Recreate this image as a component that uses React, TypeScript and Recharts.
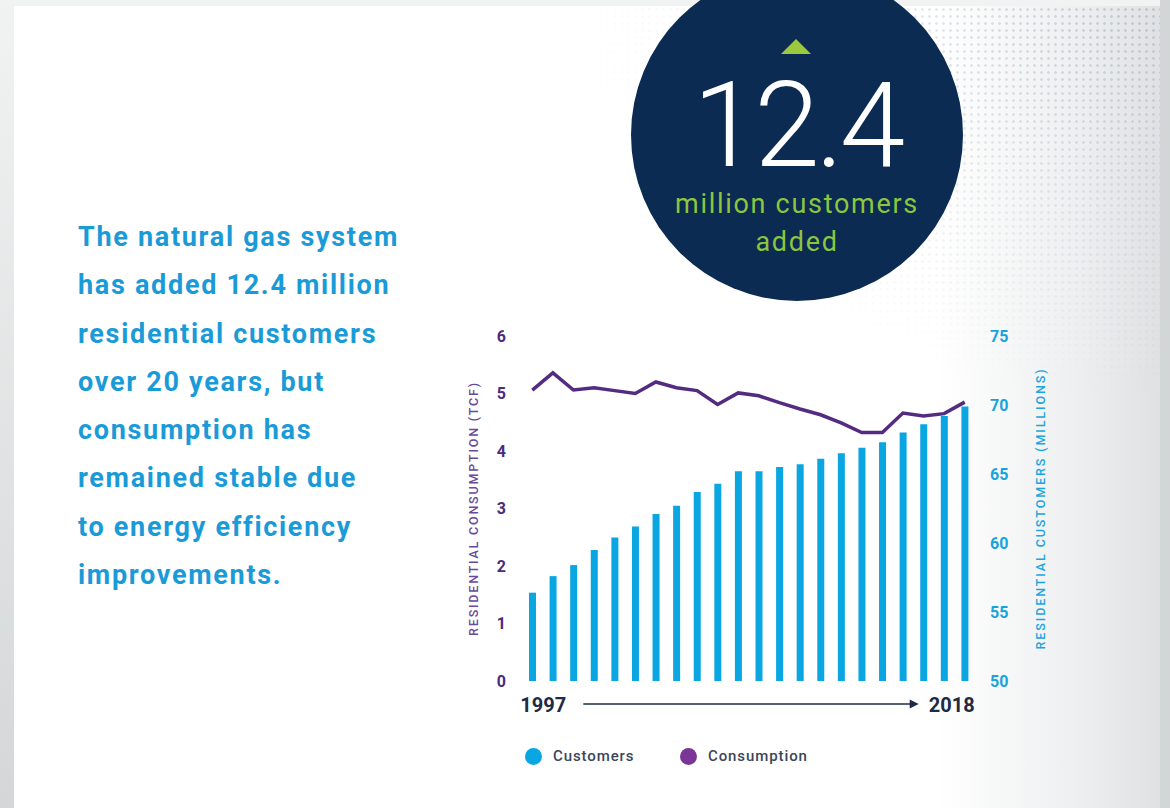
import type React from 'react';
import {
  ComposedChart,
  Bar,
  Line,
  XAxis,
  YAxis,
  Legend,
} from 'recharts';

// 年
const years = [
  '1997', '1998', '1999', '2000', '2001', '2002', '2003', '2004', '2005', '2006', '2007',
  '2008', '2009', '2010', '2011', '2012', '2013', '2014', '2015', '2016', '2017', '2018',
];

// residential customers (millions)
const customers = [
  56.4, 57.6, 58.4, 59.5, 60.4, 61.2, 62.1, 62.7, 63.7, 64.3, 65.2,
  65.2, 65.5, 65.7, 66.1, 66.5, 66.9, 67.3, 68.0, 68.6, 69.2, 69.9,
];

// residential consumption (TCF)
const consumption = [
  5.06, 5.36, 5.06, 5.1, 5.05, 5.0, 5.2, 5.1, 5.05, 4.81, 5.01,
  4.96, 4.84, 4.73, 4.63, 4.49, 4.32, 4.32, 4.66, 4.61, 4.65, 4.85,
];

const leftTicks = [0, 1, 2, 3, 4, 5, 6];
const rightTicks = [50, 55, 60, 65, 70, 75];

const introLines = [
  'The natural gas system',
  'has added 12.4 million',
  'residential customers',
  'over 20 years, but',
  'consumption has',
  'remained stable due',
  'to energy efficiency',
  'improvements.',
];

const data = years.map((year, i) => ({
  year,
  customers: customers[i],
  consumption: consumption[i],
}));

const CYAN = '#0aa6e2';
const PURPLE = '#532c82';
const NAVY = '#1e2b47';
const FONT = 'Roboto, "Noto Sans", sans-serif';

const YearTick = (props: any) => {
  const { x, y, index, visibleTicksCount, width, payload } = props;
  const last = visibleTicksCount - 1;
  if (index === 0) {
    const band = width / visibleTicksCount;
    const lastX = x + last * band;
    const start = x + 51;
    const tip = lastX - 46;
    return (
      <g>
        <text x={x - 12} y={y + 23} fill={NAVY} fontSize={20} fontWeight={700} fontFamily={FONT}>
          {payload.value}
        </text>
        <line x1={start} y1={y + 15} x2={tip - 7} y2={y + 15} stroke={NAVY} strokeWidth={1.4} />
        <polygon points={`${tip},${y + 15} ${tip - 9},${y + 10.5} ${tip - 9},${y + 19.5}`} fill={NAVY} />
      </g>
    );
  }
  if (index === last) {
    return (
      <text x={x + 10} y={y + 23} textAnchor="end" fill={NAVY} fontSize={20} fontWeight={700} fontFamily={FONT}>
        {payload.value}
      </text>
    );
  }
  return <g />;
};

const LegendContent = () => (
  <div style={{ position: 'relative', height: 60, fontFamily: FONT }}>
    {[
      { name: 'Customers', color: CYAN, left: 75 },
      { name: 'Consumption', color: '#7b3597', left: 230 },
    ].map((item) => (
      <div
        key={item.name}
        style={{
          position: 'absolute',
          left: item.left,
          top: 26,
          display: 'flex',
          alignItems: 'center',
          gap: 11,
        }}
      >
        <span
          style={{
            width: 17,
            height: 17,
            borderRadius: '50%',
            background: item.color,
            display: 'inline-block',
          }}
        />
        <span style={{ color: '#3b4759', fontSize: 15, fontWeight: 500, letterSpacing: 0.9 }}>{item.name}</span>
      </div>
    ))}
  </div>
);

const App: React.FC = () => {
  return (
    <div
      style={{
        position: 'fixed',
        left: 0,
        top: 0,
        width: 1170,
        height: 808,
        overflow: 'hidden',
        background: 'linear-gradient(90deg, #ffffff 0%, #ffffff 80%, #eeeff0 92%, #dfe1e2 99%)',
        fontFamily: FONT,
      }}
    >
      {/* 外枠 */}
      <div style={{ position: 'absolute', left: 0, top: 0, width: 1170, height: 6, background: '#f1f2f2' }} />
      <div
        style={{
          position: 'absolute',
          left: 0,
          top: 0,
          width: 14,
          height: 808,
          background: 'linear-gradient(180deg, #f1f2f2, #d4d7d8)',
        }}
      />
      <div style={{ position: 'absolute', left: 1160, top: 0, width: 10, height: 808, background: '#d3d6d7' }} />
      {/* dots */}
      <div
        style={{
          position: 'absolute',
          left: 380,
          top: 6,
          width: 780,
          height: 560,
          backgroundImage: 'radial-gradient(circle, rgba(140,165,185,0.5) 1px, transparent 1.6px)',
          backgroundSize: '7px 7px',
          WebkitMaskImage: 'radial-gradient(ellipse 75% 70% at 100% 0%, rgba(0,0,0,0.9) 0%, rgba(0,0,0,0.35) 55%, transparent 100%)',
          maskImage: 'radial-gradient(ellipse 75% 70% at 100% 0%, rgba(0,0,0,0.9) 0%, rgba(0,0,0,0.35) 55%, transparent 100%)',
        }}
      />

      {/* circle */}
      <div
        style={{
          position: 'absolute',
          left: 797 - 166,
          top: 135 - 166,
          width: 332,
          height: 332,
          borderRadius: '50%',
          background: '#0b2b52',
        }}
      />
      <svg style={{ position: 'absolute', left: 0, top: 0 }} width={1170} height={320}>
        <polygon points="796,39 781,54 811,54" fill="#9cc83f" />
        <text
          x={797}
          y={166}
          textAnchor="middle"
          fill="#ffffff"
          fontSize={118}
          fontWeight={300}
          letterSpacing={-4}
          fontFamily={FONT}
        >
          12.4
        </text>
        <text x={797} y={213} textAnchor="middle" fill="#8cc63f" fontSize={27} letterSpacing={1.7} fontFamily={FONT}>
          million customers
        </text>
        <text x={797} y={251} textAnchor="middle" fill="#8cc63f" fontSize={27} letterSpacing={1.7} fontFamily={FONT}>
          added
        </text>
      </svg>

      {/* intro text */}
      <div style={{ position: 'absolute', left: 78, top: 213 }}>
        {introLines.map((line) => (
          <div
            key={line}
            style={{
              color: '#1a9bd8',
              fontSize: 27,
              fontWeight: 700,
              letterSpacing: 1.7,
              lineHeight: '48.3px',
              whiteSpace: 'nowrap',
            }}
          >
            {line}
          </div>
        ))}
      </div>

      <div style={{ position: 'absolute', left: 450, top: 320 }}>
        <ComposedChart
          width={615}
          height={461}
          data={data}
          margin={{ top: 16, right: 0, bottom: 0, left: 0 }}
          barCategoryGap={0}
        >
          <XAxis dataKey="year" interval={0} axisLine={false} tickLine={false} height={40} tick={<YearTick />} />
          <YAxis
            yAxisId="left"
            domain={[0, 6]}
            ticks={leftTicks}
            axisLine={false}
            tickLine={false}
            width={72}
            tickMargin={10}
            tick={{ fill: '#4b2b7c', fontSize: 16, fontWeight: 700, fontFamily: FONT }}
            label={{
              value: 'RESIDENTIAL CONSUMPTION (TCF)',
              angle: -90,
              position: 'insideLeft',
              offset: 24,
              style: { textAnchor: 'middle', fill: '#6a4a9c', fontSize: 12.5, letterSpacing: 1.8, fontWeight: 500, fontFamily: FONT },
            }}
          />
          <YAxis
            yAxisId="right"
            orientation="right"
            domain={[50, 75]}
            ticks={rightTicks}
            axisLine={false}
            tickLine={false}
            width={90}
            tickMargin={9}
            tick={{ fill: '#17a3dd', fontSize: 16, fontWeight: 700, fontFamily: FONT }}
            label={{
              value: 'RESIDENTIAL CUSTOMERS (MILLIONS)',
              angle: -90,
              position: 'insideRight',
              offset: 24,
              style: { textAnchor: 'middle', fill: '#1ba6df', fontSize: 12.5, letterSpacing: 1.9, fontWeight: 500, fontFamily: FONT },
            }}
          />
          <Legend verticalAlign="bottom" align="left" wrapperStyle={{ left: 0, width: 615 }} content={<LegendContent />} />
          <Bar yAxisId="right" dataKey="customers" name="Customers" fill={CYAN} barSize={7} isAnimationActive={false} />
          <Line
            yAxisId="left"
            dataKey="consumption"
            name="Consumption"
            type="linear"
            stroke={PURPLE}
            strokeWidth={3.5}
            dot={false}
            activeDot={false}
            isAnimationActive={false}
          />
        </ComposedChart>
      </div>
    </div>
  );
};

export default App;
